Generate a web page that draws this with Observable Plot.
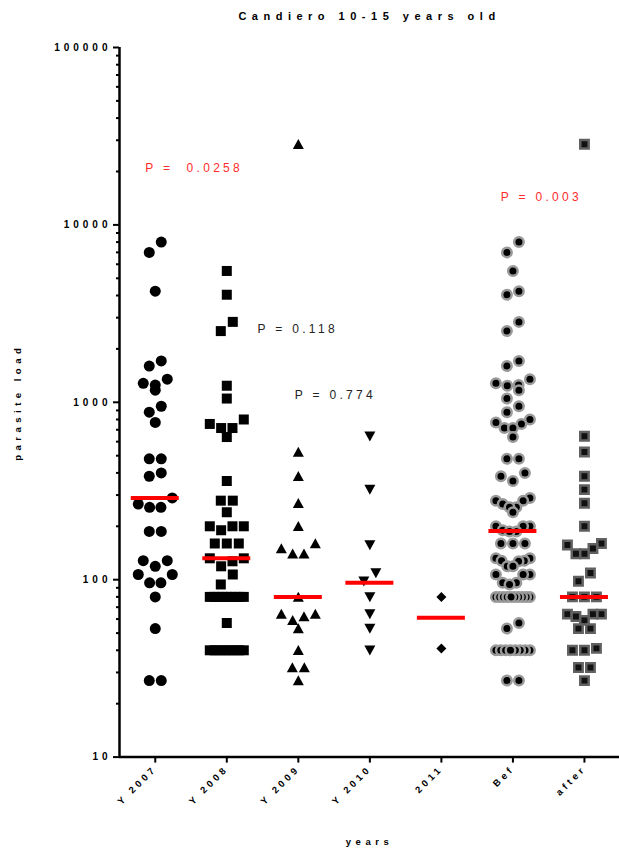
<!DOCTYPE html>
<html>
<head>
<meta charset="utf-8">
<script src="https://cdn.jsdelivr.net/npm/d3@7"></script>
<script src="https://cdn.jsdelivr.net/npm/@observablehq/plot@0.6"></script>
<style>
  body { margin: 0; background: #fff; }
  #chart svg { display: block; }
  svg text { font-family: "Liberation Sans", Arial, sans-serif; }
  g[aria-label="y-axis tick label"] text { letter-spacing: 4px; font-weight: bold; font-size: 10px; }
  g[aria-label="x-axis tick label"] text { letter-spacing: 3.5px; font-weight: bold; font-size: 9.5px; }
</style>
</head>
<body>
<div id="chart"></div>
<script>
// ---- data ----
const categories = ["Y 2007", "Y 2008", "Y 2009", "Y 2010", "2011", "Bef", "after"];
const y2007 = [8000, 7000, 4230, 1710, 1600, 1350, 1280, 1250, 1170, 950, 880, 770, 480, 480, 400, 383, 289, 267, 256, 256, 187, 187, 128, 128, 119, 107, 107, 96, 96, 80, 53, 27, 27];
const y2008 = [5500, 4040, 2840, 2520, 1240, 1050, 800, 755, 716, 716, 637, 360, 279, 279, 240, 200, 200, 200, 190, 160, 160, 160, 132, 132, 127, 119, 107, 94, 80, 80, 80, 80, 80, 80, 80, 80, 80, 57, 40, 40, 40, 40, 40, 40, 40, 40];
const y2009 = [28500, 525, 383, 270, 200, 160, 150, 140, 140, 80, 64, 64, 62, 59, 53, 40, 32, 32, 27];
const y2010 = [643, 322, 157, 109, 98, 80, 64, 53, 40];
const y2011 = [80, 41];
const bef = [8000, 7000, 5500, 4230, 4040, 2840, 2520, 1710, 1600, 1350, 1280, 1250, 1240, 1170, 1050, 950, 880, 800, 770, 755, 716, 716, 637, 480, 480, 400, 383, 360, 289, 279, 279, 267, 256, 256, 240, 200, 200, 200, 190, 187, 187, 160, 160, 160, 132, 132, 128, 128, 127, 119, 119, 107, 107, 107, 96, 96, 94, 80, 80, 80, 80, 80, 80, 80, 80, 80, 80, 57, 53, 40, 40, 40, 40, 40, 40, 40, 40, 27, 27];
const after = [28500, 643, 525, 383, 322, 270, 200, 160, 157, 150, 140, 140, 109, 98, 80, 80, 80, 64, 64, 64, 62, 59, 53, 53, 41, 40, 40, 32, 32, 27];
const medians = [289, 132, 80, 96, 61, 188, 80];
const majorTicks = [10, 100, 1000, 10000, 100000];
const pLabels = ["P =  0.0258", "P = 0.118", "P = 0.774", "P = 0.003"];
const pX = [-0.14, 1.43, 1.95, 4.83];
const pY = [21000, 2600, 1100, 14300];
const pColors = ["#ff2b2b", "#222222", "#222222", "#ff2b2b"];
const title = "Candiero 10-15 years old";
const yLabel = "parasite load";
const xLabel = "years";

// ---- layout ----
const W = 619, H = 849, mL = 119, mR = 0, mT = 47, mB = 92.4;
const xDomain = [-0.5, 6.49];
const pxPerUnit = (W - mL - mR) / (xDomain[1] - xDomain[0]);
const yScale = Plot.scale({y: {type: "log", domain: [10, 100000], range: [H - mB, mT]}});

// ---- symbols ----
const sym = {
  circle: {draw(c, size) { const r = Math.sqrt(size / Math.PI); c.moveTo(r, 0); c.arc(0, 0, r, 0, 2 * Math.PI); }},
  square: {draw(c, size) { const r = Math.sqrt(size / Math.PI); c.rect(-r, -r, 2 * r, 2 * r); }},
  up: {draw(c, size) { const r = Math.sqrt(size / Math.PI); c.moveTo(0, -1.05 * r); c.lineTo(1.1 * r, 0.95 * r); c.lineTo(-1.1 * r, 0.95 * r); c.closePath(); }},
  down: {draw(c, size) { const r = Math.sqrt(size / Math.PI); c.moveTo(0, 1.05 * r); c.lineTo(1.1 * r, -0.95 * r); c.lineTo(-1.1 * r, -0.95 * r); c.closePath(); }},
  diamond: {draw(c, size) { const r = Math.sqrt(size / Math.PI); c.moveTo(0, -r); c.lineTo(r, 0); c.lineTo(0, r); c.lineTo(-r, 0); c.closePath(); }}
};

// GraphPad-like scatter: bin points into rows and spread each row symmetrically
function swarm(values, ci) {
  const pts = values.map(v => ({v, py: yScale.apply(v)})).sort((a, b) => a.py - b.py);
  const rows = [];
  let cur = null;
  for (const p of pts) {
    if (!cur || p.py - cur.start > 11) { cur = {start: p.py, pts: []}; rows.push(cur); }
    cur.pts.push(p);
  }
  for (const row of rows) {
    const n = row.pts.length;
    const s = n > 1 ? Math.min(12, 34 / (n - 1)) : 0;
    const slots = d3.range(n).map(j => j - (n - 1) / 2)
      .sort((a, b) => Math.abs(b) - Math.abs(a) || b - a);
    row.pts.forEach((p, j) => { p.x = ci + slots[j] * s / pxPerUnit; });
  }
  return pts;
}

const groups = [
  {values: y2007, symbol: sym.circle, r: 5.5, fill: "#000", stroke: "none", sw: 0},
  {values: y2008, symbol: sym.square, r: 5, fill: "#000", stroke: "none", sw: 0},
  {values: y2009, symbol: sym.up, r: 5, fill: "#000", stroke: "none", sw: 0},
  {values: y2010, symbol: sym.down, r: 5, fill: "#000", stroke: "none", sw: 0},
  {values: y2011, symbol: sym.diamond, r: 5, fill: "#000", stroke: "none", sw: 0},
  {values: bef, symbol: sym.circle, r: 4.75, fill: "#000", stroke: "#9a9a9a", sw: 2.5},
  {values: after, symbol: sym.square, r: 4.2, fill: "#111", stroke: "#616161", sw: 2.5}
];

const medianData = medians.map((m, i) => ({m, i}));
const pData = pLabels.map((label, i) => ({label, x: pX[i], y: pY[i], color: pColors[i]}));
const minorTicks = majorTicks.slice(0, -1).flatMap(d => d3.range(2, 10).map(k => k * d));

const chart = Plot.plot({
  width: W, height: H,
  marginLeft: mL, marginRight: mR, marginTop: mT, marginBottom: mB,
  style: {background: "#fff", fontFamily: "Liberation Sans, Arial, sans-serif", color: "#000"},
  x: {type: "linear", domain: xDomain},
  y: {type: "log", domain: [10, 100000]},
  marks: [
    Plot.axisY({ticks: minorTicks, tickSize: 3, tickFormat: () => "", label: null, strokeWidth: 2}),
    Plot.axisY({ticks: majorTicks, tickSize: 6, tickPadding: 2, tickFormat: d => String(d), label: null, strokeWidth: 2, fontWeight: "bold", fontSize: 10}),
    Plot.axisX({ticks: d3.range(categories.length), tickFormat: i => categories[i], tickRotate: -45, tickSize: 6, tickPadding: 4, label: null, strokeWidth: 2, fontWeight: "bold"}),
    Plot.ruleX([xDomain[0]], {strokeWidth: 2.5}),
    Plot.ruleY([10], {strokeWidth: 2.5}),
    ...groups.map((g, ci) => Plot.dot(swarm(g.values, ci), {
      x: "x", y: "v", symbol: g.symbol, r: g.r, fill: g.fill, stroke: g.stroke, strokeWidth: g.sw
    })),
    Plot.ruleY(medianData, {y: "m", x1: d => d.i - 24 / pxPerUnit, x2: d => d.i + 24 / pxPerUnit, stroke: "#ff0000", strokeWidth: 4}),
    Plot.text(pData, {x: "x", y: "y", text: "label", fill: "color", textAnchor: "start", fontSize: 12}),
    Plot.text([title], {frameAnchor: "top", dy: -35, fontSize: 11, fontWeight: "bold"}),
    Plot.text([yLabel], {frameAnchor: "left", dx: -102, rotate: -90, textAnchor: "middle", fontSize: 9.5, fontWeight: "bold"}),
    Plot.text([xLabel], {frameAnchor: "bottom", dy: 88, fontSize: 9.5, fontWeight: "bold"})
  ]
});

// letter spacing (GraphPad style) applied to the text marks after rendering
const spacing = new Map([[title, 5.5], [yLabel, 4.5], [xLabel, 4.5]]);
pLabels.forEach(l => spacing.set(l, 3.3));
d3.select(chart).selectAll("text").each(function() {
  const ls = spacing.get(this.textContent);
  if (ls != null) d3.select(this).attr("letter-spacing", ls).style("white-space", "pre");
});
document.getElementById("chart").appendChild(chart);
</script>
</body>
</html>
